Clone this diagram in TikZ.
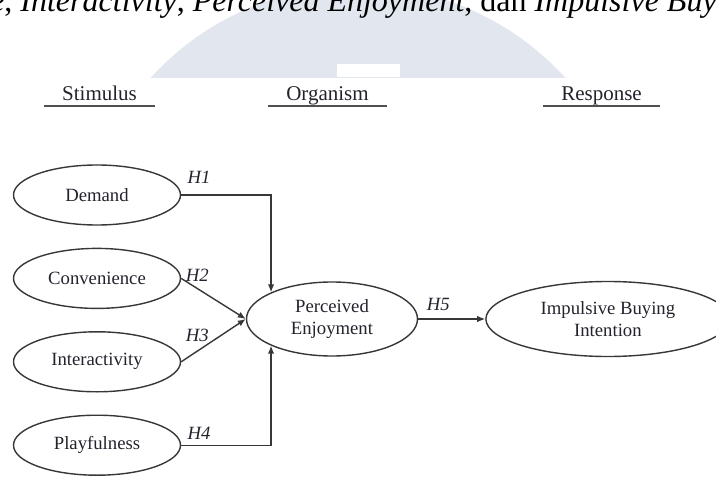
\documentclass[tikz,border=0pt]{standalone}
\usepackage{fontspec}
\setmainfont{Liberation Serif}
\usetikzlibrary{shapes.geometric, arrows.meta, positioning}
\definecolor{linegray}{RGB}{55, 55, 55}
\definecolor{textgray}{RGB}{35, 35, 45}
\definecolor{rulegray}{RGB}{80, 80, 80}
\definecolor{wmarkblue}{RGB}{226, 231, 239}
\newcommand{\nodefont}{\fontsize{18.7}{22}\selectfont}
\newcommand{\headfont}{\fontsize{21}{25}\selectfont}
\newcommand{\captfont}{\fontsize{32}{38}\selectfont}

\begin{document}
\begin{tikzpicture}[
        x=1pt, y=-1pt,
        node distance=22pt and 67pt,
        construct/.style={ellipse, draw=linegray, line width=1.4pt, minimum width=167pt, minimum height=60pt, inner sep=0pt, align=center, font=\nodefont, text=textgray},
        heading/.style={anchor=base, inner sep=0pt, font=\headfont, text=textgray},
        underline/.style={line width=2.4pt, draw=rulegray},
        arrow/.style={-{Latex[length=8pt, width=6.5pt]}, line width=1.4pt, draw=linegray},
        hyp/.style={font=\nodefont\itshape, text=textgray, inner sep=1pt}
    ]
    \useasboundingbox (0,0) rectangle (716,479);
    \clip (0,0) rectangle (716,479);

        % Watermark and caption
        \begin{scope}
            \clip (0,0) rectangle (716,77);
            \fill[wmarkblue] (358,266) circle (280pt);
        \end{scope}
        \fill[white] (337,64) rectangle (400,77);
        \node[anchor=base west, inner sep=0pt, font=\captfont] (caption) at (-161,12) {\textit{Convenience}, \textit{Interactivity}, \textit{Perceived Enjoyment}, dan \textit{Impulsive Buying}};

        % Headings
        \node[heading, minimum width=111pt] (stimulus) at (99.5,100) {Stimulus};
        \node[heading, minimum width=119pt] (organism) at (327.5,100) {Organism};
        \node[heading, minimum width=117pt] (response) at (601.5,100) {Response};
        \draw[underline] ([yshift=-6pt]stimulus.base west) -- ([yshift=-6pt]stimulus.base east);
        \draw[underline] ([yshift=-6pt]organism.base west) -- ([yshift=-6pt]organism.base east);
        \draw[underline] ([yshift=-6pt]response.base west) -- ([yshift=-6pt]response.base east);

        % Nodes
        \node[construct] (demand) at (97,195) {Demand};
        \node[construct, below=of demand] (convenience) {Convenience};
        \node[construct, below=of convenience] (interactivity) {Interactivity};
        \node[construct, below=of interactivity] (playfulness) {Playfulness};
        \node[construct, minimum width=171pt, minimum height=74pt] (perceived) at (332,319) {Perceived\\Enjoyment};
        \node[construct, minimum width=244pt, minimum height=75pt, right=of perceived] (impulsive) {Impulsive Buying\\Intention};

        % Connections
        \draw[arrow] (demand.east) -| node[hyp, pos=0.1, above=10pt] {H1} (perceived.north west);
        \draw[arrow] (convenience.east) -- node[hyp, pos=0.25, above=5pt] {H2} (perceived.west);
        \draw[arrow] (interactivity.east) -- node[hyp, pos=0.25, above=8pt] {H3} (perceived.west);
        \draw[arrow] (playfulness.east) -| node[hyp, pos=0.1, above=4pt] {H4} (perceived.south west);
        \draw[arrow] (perceived) -- node[hyp, pos=0.3, above=7pt] {H5} (impulsive);
    \end{tikzpicture}
\end{document}
